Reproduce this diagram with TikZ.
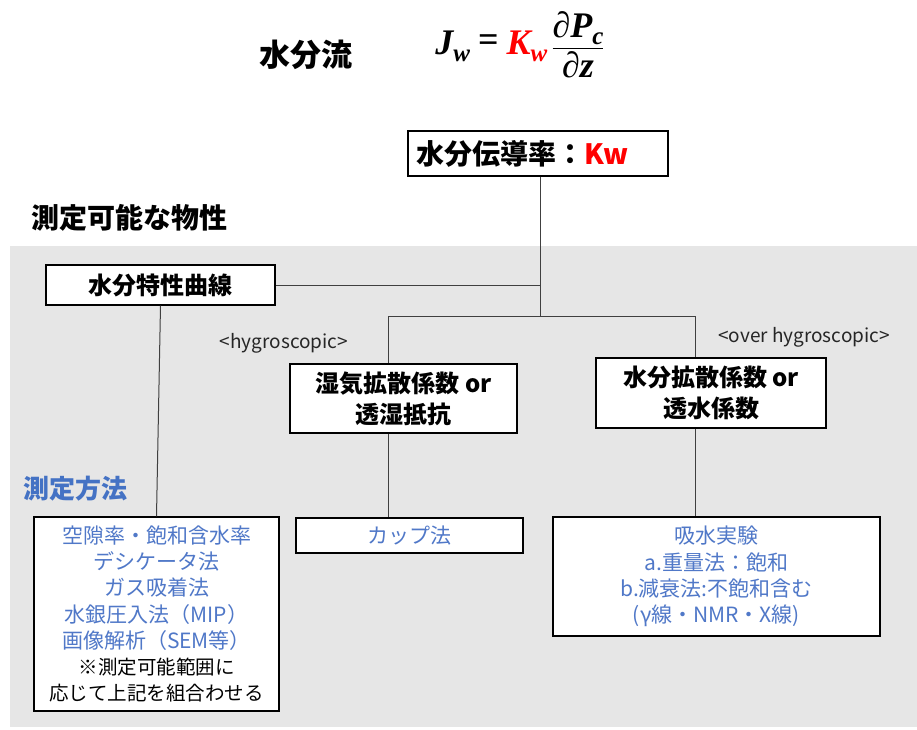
\documentclass[tikz,border=0pt]{standalone}
\usepackage{amsmath}
\usepackage{fontspec}
\setmainfont{Noto Sans CJK JP}
\newfontfamily\eqf{Liberation Serif}
\definecolor{bgray}{HTML}{E6E6E6}
\definecolor{hblue}{HTML}{4472C4}
\definecolor{iblue}{HTML}{5078C8}
\definecolor{kred}{HTML}{FF0000}
\definecolor{lgray}{HTML}{404040}
\newsavebox{\eqnbox}
\newcommand{\eqsub}[1]{\raisebox{-7pt}{\fontsize{25}{28}\selectfont #1}}
\begin{document}
\sbox{\eqnbox}{\eqf\bfseries\itshape\fontsize{36}{42}\selectfont
  J\eqsub{w}\hspace{8pt}\raisebox{3pt}{\upshape\bfseries =}\hspace{8pt}\textcolor{kred}{K\eqsub{w}}\hspace{4pt}%
  $\dfrac{\mbox{\eqf\bfseries\itshape\fontsize{36}{42}\selectfont ∂P\eqsub{c}}}{\mbox{\eqf\bfseries\itshape\fontsize{36}{42}\selectfont ∂z}}$}
\begin{tikzpicture}[x=1pt,y=-1pt,
  box/.style={draw=black, line width=1.1pt, fill=white, inner sep=0pt, align=center},
  conn/.style={draw=lgray, line width=1pt},
  bigb/.style={font=\fontsize{28}{32}\selectfont\bfseries},
  midb/.style={font=\fontsize{24}{31}\selectfont\bfseries},
  item/.style={font=\fontsize{21}{26.2}\selectfont, text=iblue},
  tag/.style={font=\fontsize{19}{22}\selectfont, text=black!85}]
\useasboundingbox (0,0) rectangle (917,729);
\fill[white] (0,0) rectangle (917,729);
\fill[bgray] (10,246) rectangle (917,727);

% title
\node[font=\fontsize{31}{36}\selectfont\bfseries] (title) at (306,55) {水分流};
\node[inner sep=0pt] (eq) at (520,45) {\usebox{\eqnbox}};

% nodes
\node[box, bigb, minimum width=260pt, minimum height=45pt] (kw) at (538,153.5)
  {水分伝導率：\textcolor{kred}{Kw}\hspace{30pt}};
\node[bigb, anchor=west] (phys) at (28,218) {測定可能な物性};
\node[box, midb, minimum width=229pt, minimum height=40pt] (curve) at (160.5,285) {水分特性曲線};
\node[box, midb, minimum width=227pt, minimum height=69pt] (moist) at (403.5,398.5) {湿気拡散係数 or\\透湿抵抗};
\node[box, midb, minimum width=230pt, minimum height=70pt] (water) at (711,393) {水分拡散係数 or\\透水係数};
\node[tag] (hyg) at (284,343) {<hygroscopic>};
\node[tag] (ohyg) at (804,337) {<over hygroscopic>};
\node[font=\fontsize{26}{30}\selectfont\bfseries, text=hblue] (meth) at (75,489) {測定方法};

\node[box, item, minimum width=245pt, minimum height=194pt] (left) at (156.5,614)
  {空隙率・飽和含水率\\デシケータ法\\ガス吸着法\\水銀圧入法（MIP）\\画像解析（SEM等）\\
   {\color{black}\fontsize{19.5}{26.2}\selectfont ※測定可能範囲に}\\
   {\color{black}\fontsize{19.5}{26.2}\selectfont 応じて上記を組合わせる}};
\node[box, item, minimum width=227pt, minimum height=35pt] (cup) at (409.5,535.5) {カップ法};
\node[box, item, minimum width=327pt, minimum height=119pt] (abs) at (716.5,576.5)
  {吸水実験\\a.重量法：飽和\\b.減衰法:不飽和含む\\(γ線・NMR・X線)};

% connectors
\coordinate (j1) at (540,285);
\coordinate (j2) at (540,316);
\coordinate (hL) at (388,316);
\coordinate (hR) at (695,316);
\draw[conn] (kw.south -| j1) -- (j2);
\draw[conn] (curve.east) -- (j1);
\draw[conn] (hL) -- (hR);
\draw[conn] (hL) -- (hL |- moist.north);
\draw[conn] (hR) -- (hR |- water.north);
\draw[conn] (moist.south -| hL) -- (cup.north -| hL);
\draw[conn] (water.south -| hR) -- (abs.north -| hR);
\draw[conn] (curve.south) -- (left.north);
\end{tikzpicture}
\end{document}
